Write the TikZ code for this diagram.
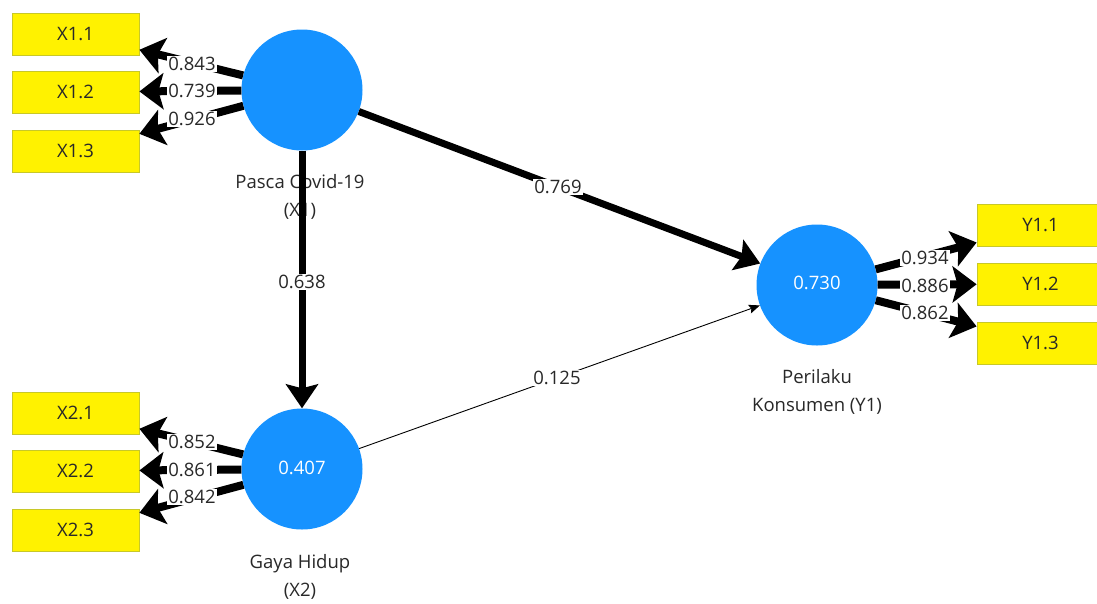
\documentclass[tikz,border=0pt]{standalone}
\usepackage{fontspec}
\setmainfont{Open Sans}
\usetikzlibrary{arrows.meta}
\definecolor{lvblue}{RGB}{22,146,255}
\definecolor{yedge}{RGB}{200,200,40}
\definecolor{txt}{RGB}{40,40,40}
\begin{document}
\begin{tikzpicture}[x=1pt,y=-1pt,
  lv/.style={circle, fill=lvblue, minimum size=121pt, inner sep=0pt, text=white, font=\fontsize{18.5}{22}\selectfont},
  ind/.style={rectangle, fill=yellow, draw=yedge, line width=0.8pt, minimum width=127pt, minimum height=42pt, inner sep=0pt, text=txt, font=\fontsize{18.5}{22}\selectfont},
  load/.style={line width=8pt, -{Stealth[length=24pt,width=36pt,inset=5pt]}},
  path/.style={line width=7pt, -{Stealth[length=24pt,width=32pt,inset=4pt]}},
  thinpath/.style={line width=0.9pt, -{Stealth[length=11pt,width=9pt,inset=2pt]}},
  wlab/.style={fill=white, inner sep=1.5pt, text=txt, font=\fontsize{18.5}{22}\selectfont},
  lvname/.style={align=center, text=txt, font=\fontsize{18.5}{28}\selectfont}]
\useasboundingbox[fill=white] (0,0) rectangle (1097,603);

% latent variables
\node[lv] (X1) at (302,90) {};
\node[lv] (X2) at (302,469) {\raisebox{3pt}{0.407}};
\node[lv] (Y1) at (817,285) {\raisebox{4pt}{0.730}};

% names
\node[lvname] (nX1) at (300,197) {Pasca Covid-19\\(X1)};
\node[lvname] (nX2) at (300,577) {Gaya Hidup\\(X2)};
\node[lvname] (nY1) at (817,392) {Perilaku\\Konsumen (Y1)};

% indicators
\node[ind] (x11) at (75.5,34) {X1.1};
\node[ind] (x12) at (75.5,92) {X1.2};
\node[ind] (x13) at (75.5,151) {X1.3};
\node[ind] (x21) at (75.5,413) {X2.1};
\node[ind] (x22) at (75.5,471) {X2.2};
\node[ind] (x23) at (75.5,530) {X2.3};
\node[ind] (y11) at (1040.5,225.5) {Y1.1};
\node[ind] (y12) at (1040.5,284) {Y1.2};
\node[ind] (y13) at (1040.5,343) {Y1.3};

% loadings
\draw[load] (X1) -- (x11);
\draw[load] (X1) -- (x12);
\draw[load] (X1) -- (x13);
\draw[load] (X2) -- (x21);
\draw[load] (X2) -- (x22);
\draw[load] (X2) -- (x23);
\draw[load] (Y1) -- (y11);
\draw[load] (Y1) -- (y12);
\draw[load] (Y1) -- (y13);

% paths
\draw[path] (X1) -- (Y1);
\draw[path] (X1) -- (X2);
\draw[thinpath] (X2) -- (Y1);

% labels
\node[wlab] (l1) at (192,64) {0.843};
\node[wlab] (l2) at (192,91) {0.739};
\node[wlab] (l3) at (192,119) {0.926};
\node[wlab] (l4) at (192,442) {0.852};
\node[wlab] (l5) at (192,470) {0.861};
\node[wlab] (l6) at (192,497) {0.842};
\node[wlab] (l7) at (925,258) {0.934};
\node[wlab] (l8) at (925,286) {0.886};
\node[wlab] (l9) at (925,313) {0.862};
\node[wlab] (p1) at (558,187) {0.769};
\node[wlab] (p2) at (302,282) {0.638};
\node[wlab] (p3) at (557,378) {0.125};
\end{tikzpicture}
\end{document}
